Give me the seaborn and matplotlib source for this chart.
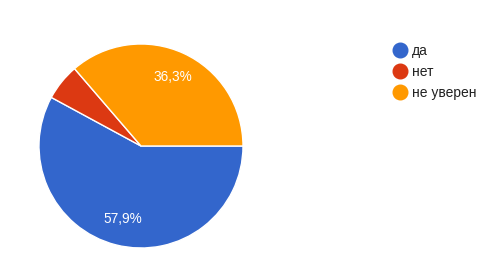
import matplotlib
matplotlib.use("Agg")
import matplotlib.pyplot as plt
from matplotlib.lines import Line2D
import seaborn as sns

categories = ["да", "нет", "не уверен"]
values = [57.9, 5.8, 36.3]
colors = ["#3366cc", "#dc3912", "#ff9900"]

sns.set_style("white")
plt.rcParams["font.family"] = ["Liberation Sans", "DejaVu Sans"]

fig = plt.figure(figsize=(4.98, 2.63), dpi=100)
W, H = 498, 263
cx, cy, r = 141, 146, 102
ax = fig.add_axes([(cx - r) / W, (H - cy - r) / H, 2 * r / W, 2 * r / H])


def fmt(p):
    return f"{p:.1f}%".replace(".", ",") if p > 8 else ""


wedges, texts, autotexts = ax.pie(
    values, colors=colors, startangle=0, counterclock=False,
    autopct=fmt, pctdistance=0.74,
    wedgeprops=dict(edgecolor="white", linewidth=1),
    textprops=dict(color="white", fontsize=9.8),
)
ax.set_xlim(-1, 1)
ax.set_ylim(-1, 1)
ax.set_aspect("equal")
ax.axis("off")

handles = [Line2D([0], [0], marker="o", linestyle="", markersize=10.5,
                  markerfacecolor=c, markeredgecolor=c) for c in colors]
fig.legend(handles, categories, loc="upper left",
           bbox_to_anchor=(393 / W, 1 - 44 / H), frameon=False,
           fontsize=10, handlelength=1.0, handletextpad=0.35,
           labelspacing=0.5, borderaxespad=0, borderpad=0,
           labelcolor="#222222")

fig.savefig("out.png", dpi=100)
